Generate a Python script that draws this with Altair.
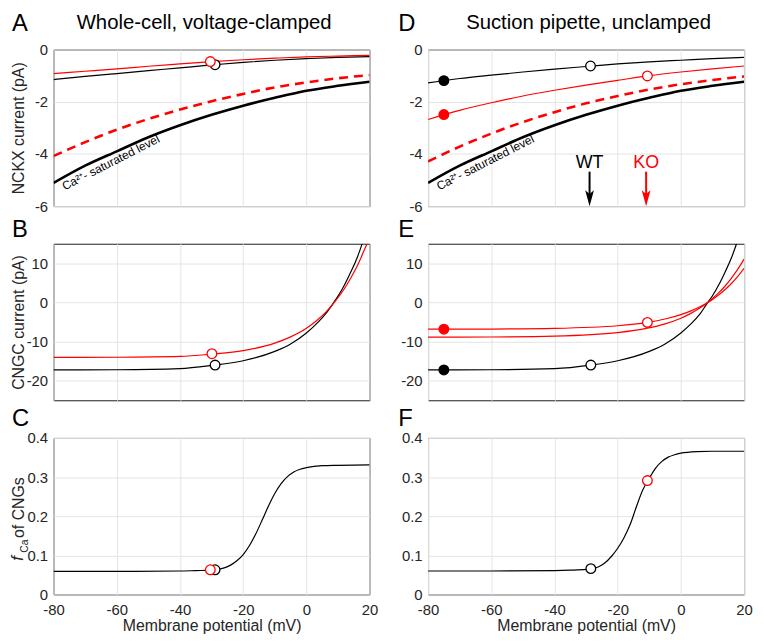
import altair as alt
import pandas as pd

FONT = "Liberation Sans"
RED = "#ff0000"
BLACK = "#000000"
INK = "#262626"
W, H = 319, 158

X_TICKS = [-80, -60, -40, -20, 0, 20]
NCKX_TICKS = [-6, -4, -2, 0]
CNGC_TICKS = [-20, -10, 0, 10]
FCA_TICKS = [0, 0.1, 0.2, 0.3, 0.4]

# ---------------- Panel A : NCKX current, whole-cell ----------------
A_V = [-80, -70, -60, -50, -40, -30, -20, -10, 0, 10, 20]
A_WT = [-1.15, -1.03, -0.92, -0.81, -0.70, -0.59, -0.49, -0.41, -0.35, -0.30, -0.27]
A_KO = [-0.92, -0.83, -0.74, -0.64, -0.55, -0.46, -0.39, -0.33, -0.28, -0.25, -0.22]
A_SAT_WT = [-5.11, -4.45, -3.90, -3.36, -2.90, -2.50, -2.15, -1.85, -1.58, -1.39, -1.23]
A_SAT_KO = [-4.08, -3.55, -3.07, -2.66, -2.30, -1.98, -1.70, -1.45, -1.26, -1.10, -0.98]
A_OPEN_WT = ([-28.9], [-0.58])
A_OPEN_KO = ([-30.4], [-0.46])

# ---------------- Panel D : NCKX current, suction pipette ----------------
D_V = [-80, -70, -60, -50, -40, -30, -20, -10, 0, 10, 20]
D_WT = [-1.28, -1.11, -0.98, -0.86, -0.75, -0.65, -0.55, -0.47, -0.41, -0.35, -0.30]
D_KO = [-2.68, -2.33, -2.04, -1.78, -1.56, -1.36, -1.18, -1.00, -0.86, -0.74, -0.63]
D_SAT_WT = [-5.11, -4.45, -3.90, -3.36, -2.90, -2.50, -2.15, -1.85, -1.58, -1.39, -1.23]
D_SAT_KO = [-4.29, -3.72, -3.22, -2.78, -2.40, -2.06, -1.78, -1.53, -1.33, -1.17, -1.03]
D_FILLED_WT = ([-75], [-1.19])
D_FILLED_KO = ([-75], [-2.49])
D_OPEN_WT = ([-28.6], [-0.63])
D_OPEN_KO = ([-10.6], [-1.01])
ARROW_V = [-28.9, -11.0]
ARROW_LABEL = ["WT", "KO"]
ARROW_COLOR = [BLACK, RED]
ARROW_LABEL_Y = -4.55
ARROW_TOP = -4.68
ARROW_SHAFT_END = -5.62
ARROW_HEAD_Y = -5.70

# ---------------- Panel B : CNGC current, whole-cell ----------------
B_WT_V = [-80, -60, -40, -30, -20, -10, -5, 0, 3, 6, 8.5, 10, 12, 14, 16, 17.6]
B_WT = [-17.25, -17.2, -16.9, -16.1, -14.9, -12.5, -10.6, -7.8, -5.6, -3.0, -0.2, 1.6, 4.4, 7.7, 11.3, 14.9]
B_KO_V = [-80, -60, -40, -30, -20, -10, -5, 0, 3, 6, 8.5, 10, 12, 14, 16, 18, 19.2]
B_KO = [-14.05, -14.0, -13.8, -13.2, -12.3, -10.4, -8.8, -6.6, -4.8, -2.6, -0.3, 1.2, 3.5, 6.2, 9.2, 12.8, 15.0]
B_OPEN_WT = ([-28.9], [-16.0])
B_OPEN_KO = ([-29.9], [-13.1])

# ---------------- Panel E : CNGC current, suction pipette ----------------
E_WT_V = [-80, -60, -40, -28.5, -20, -10, -5, 0, 3, 6, 8.5, 10, 12, 14, 16, 17.6]
E_WT = [-17.25, -17.2, -16.9, -16.0, -14.9, -12.5, -10.6, -7.8, -5.6, -3.0, 0.0, 1.7, 4.5, 7.8, 11.4, 15.0]
E_KO_V = [-80, -60, -40, -20, -10.6, -5, 0, 3, 6, 8.5, 10, 12, 14, 16, 18, 20]
E_KO_A = [-6.84, -6.80, -6.63, -5.96, -5.10, -4.24, -3.12, -2.22, -1.12, 0.0, 0.77, 1.95, 3.3, 4.85, 6.65, 8.7]
E_KO_B = [-8.88, -8.83, -8.61, -7.71, -6.58, -5.46, -4.02, -2.86, -1.43, 0.0, 0.99, 2.5, 4.2, 6.2, 8.5, 11.1]
E_FILLED_WT = ([-75], [-17.25])
E_FILLED_KO = ([-75], [-6.84])
E_OPEN_WT = ([-28.5], [-16.0])
E_OPEN_KO = ([-10.6], [-5.1])

# ---------------- Panels C / F : fCa of CNGs ----------------
F_V = [-80, -60, -40, -35, -30, -28, -26, -24, -22, -20, -18, -16, -14, -12, -10, -8, -6, -4, -2, 0, 5, 10, 20]
C_FCA = [0.059, 0.059, 0.060, 0.061, 0.062, 0.064, 0.068, 0.075, 0.086, 0.102, 0.125, 0.155, 0.190, 0.226,
         0.258, 0.283, 0.301, 0.313, 0.320, 0.324, 0.329, 0.330, 0.331]
F_FCA = [0.060, 0.060, 0.061, 0.062, 0.064, 0.066, 0.071, 0.081, 0.097, 0.118, 0.145, 0.180, 0.226, 0.268,
         0.297, 0.323, 0.340, 0.351, 0.357, 0.361, 0.365, 0.366, 0.366]
C_OPEN_WT = ([-28.9], [0.063])
C_OPEN_KO = ([-30.4], [0.063])
F_OPEN_WT = ([-28.5], [0.066])
F_OPEN_KO = ([-10.6], [0.291])

SAT_LABEL = "Ca²⁺- saturated level"
SAT_LABEL_POS = (-76.5, -5.40)


def xaxis(bottom):
    if bottom:
        return alt.Axis(values=X_TICKS, labelExpr="'' + datum.value", title="Membrane potential (mV)",
                        labelFlush=False, labelOverlap=False, labelPadding=8, titleY=23, grid=True)
    return alt.Axis(values=X_TICKS, labels=False, title=None, grid=True)


def yaxis(ticks, title):
    kw = dict(values=ticks, labelExpr="'' + datum.value", grid=True, labelPadding=6,
              labelOverlap=False, labelFlush=False)
    if title:
        kw.update(title=title, titleX=-27)
    else:
        kw["title"] = None
    return alt.Axis(**kw)


def pix_text(text, x, y, size, color=BLACK, align="left", baseline="alphabetic", angle=0, style="normal"):
    mk = dict(text=text, fontSize=size, color=color, align=align, baseline=baseline, font=FONT, fontStyle=style)
    if angle:
        mk["angle"] = angle
    return alt.Chart(pd.DataFrame({"k": [0]})).mark_text(**mk).encode(x=alt.value(x), y=alt.value(y))


def panel(ydom, yticks, ytitle, bottom, lines, points, texts=(), extra=()):
    X = alt.X("V:Q", scale=alt.Scale(domain=[-80, 20], nice=False, zero=False), axis=xaxis(bottom))
    Y = alt.Y("I:Q", scale=alt.Scale(domain=ydom, nice=False, zero=False), axis=yaxis(yticks, ytitle))
    layers = []
    for V, I, color, width, dash in lines:
        kw = dict(color=color, strokeWidth=width, interpolate="monotone", clip=True)
        if dash:
            kw["strokeDash"] = dash
        layers.append(alt.Chart(pd.DataFrame({"V": V, "I": I})).mark_line(**kw).encode(x=X, y=Y))
    for (V, I), stroke, fill in points:
        layers.append(alt.Chart(pd.DataFrame({"V": V, "I": I})).mark_point(
            shape="circle", size=95, filled=True, fill=fill, stroke=stroke, strokeWidth=1.3,
            fillOpacity=1, strokeOpacity=1).encode(x=X, y=Y))
    for t in texts:
        df = pd.DataFrame({"V": [t["V"]], "I": [t["I"]], "t": [t["text"]]})
        mk = dict(fontSize=t["size"], color=t["color"], align=t.get("align", "center"),
                  baseline=t.get("baseline", "alphabetic"), font=FONT)
        if t.get("angle"):
            mk["angle"] = t["angle"]
        layers.append(alt.Chart(df).mark_text(**mk).encode(x=X, y=Y, text="t:N"))
    layers.extend(extra)
    return alt.layer(*layers).properties(width=W, height=H)


sat_text = dict(V=SAT_LABEL_POS[0], I=SAT_LABEL_POS[1], text=SAT_LABEL, size=12, color=BLACK,
                align="left", baseline="alphabetic", angle=333)

# ---- A
pA = panel([-6, 0], NCKX_TICKS, "NCKX current (pA)", False,
           [(A_V, A_WT, BLACK, 1.2, None), (A_V, A_KO, RED, 1.2, None),
            (A_V, A_SAT_KO, RED, 2.6, [9, 6]), (A_V, A_SAT_WT, BLACK, 2.6, None)],
           [(A_OPEN_WT, BLACK, "white"), (A_OPEN_KO, RED, "white")],
           [sat_text],
           [pix_text("A", -42, -38, 24, baseline="top"),
            pix_text("Whole-cell, voltage-clamped", 152, -37, 20.5, align="center", baseline="top")])

# ---- D
arrow_df = pd.DataFrame({"V": ARROW_V, "lab": ARROW_LABEL, "col": ARROW_COLOR,
                         "y0": [ARROW_TOP] * 2, "y1": [ARROW_SHAFT_END] * 2,
                         "yl": [ARROW_LABEL_Y] * 2, "yh": [ARROW_HEAD_Y] * 2})
xs = alt.Scale(domain=[-80, 20], nice=False, zero=False)
ys = alt.Scale(domain=[-6, 0], nice=False, zero=False)
cs = alt.Scale(domain=ARROW_COLOR, range=ARROW_COLOR)
arrow_rule = alt.Chart(arrow_df).mark_rule(strokeWidth=2).encode(
    x=alt.X("V:Q", scale=xs), y=alt.Y("y0:Q", scale=ys), y2="y1:Q",
    color=alt.Color("col:N", scale=cs, legend=None))
arrow_head = alt.Chart(arrow_df).mark_point(
    shape="M0,1 L-0.55,-1 L0,-0.55 L0.55,-1 Z", size=256, filled=True, opacity=1, strokeWidth=0).encode(
    x=alt.X("V:Q", scale=xs), y=alt.Y("yh:Q", scale=ys),
    color=alt.Color("col:N", scale=cs, legend=None))
arrow_lab = alt.Chart(arrow_df).mark_text(fontSize=18, font=FONT, baseline="alphabetic", align="center").encode(
    x=alt.X("V:Q", scale=xs), y=alt.Y("yl:Q", scale=ys), text="lab:N",
    color=alt.Color("col:N", scale=cs, legend=None))

pD = panel([-6, 0], NCKX_TICKS, None, False,
           [(D_V, D_WT, BLACK, 1.2, None), (D_V, D_KO, RED, 1.2, None),
            (D_V, D_SAT_KO, RED, 2.6, [9, 6]), (D_V, D_SAT_WT, BLACK, 2.6, None)],
           [(D_FILLED_WT, BLACK, BLACK), (D_FILLED_KO, RED, RED),
            (D_OPEN_WT, BLACK, "white"), (D_OPEN_KO, RED, "white")],
           [sat_text],
           [arrow_rule, arrow_head, arrow_lab,
            pix_text("D", -30, -38, 24, baseline="top"),
            pix_text("Suction pipette, unclamped", 162, -37, 20.5, align="center", baseline="top")])

# ---- B
pB = panel([-25, 15], CNGC_TICKS, "CNGC current (pA)", False,
           [(B_WT_V, B_WT, BLACK, 1.2, None), (B_KO_V, B_KO, RED, 1.2, None)],
           [(B_OPEN_WT, BLACK, "white"), (B_OPEN_KO, RED, "white")],
           [], [pix_text("B", -42, -26, 24, baseline="top")])

# ---- E
pE = panel([-25, 15], CNGC_TICKS, None, False,
           [(E_WT_V, E_WT, BLACK, 1.2, None), (E_KO_V, E_KO_A, RED, 1.2, None), (E_KO_V, E_KO_B, RED, 1.2, None)],
           [(E_FILLED_WT, BLACK, BLACK), (E_FILLED_KO, RED, RED),
            (E_OPEN_WT, BLACK, "white"), (E_OPEN_KO, RED, "white")],
           [], [pix_text("E", -30, -26, 24, baseline="top")])

# ---- C
pC = panel([0, 0.4], FCA_TICKS, None, True,
           [(F_V, C_FCA, BLACK, 1.2, None)],
           [(C_OPEN_WT, BLACK, "white"), (C_OPEN_KO, RED, "white")],
           [], [pix_text("C", -42, -31, 24, baseline="top"),
                pix_text("of CNGs", -27, 101, 16, color=INK, baseline="bottom", angle=270),
                pix_text("Ca", -24, 116, 10.5, color=INK, baseline="bottom", angle=270),
                pix_text("f", -27, 124, 17, color=INK, baseline="bottom", angle=270, style="italic")])

# ---- F
pF = panel([0, 0.4], FCA_TICKS, None, True,
           [(F_V, F_FCA, BLACK, 1.2, None)],
           [(F_OPEN_WT, BLACK, "white"), (F_OPEN_KO, RED, "white")],
           [], [pix_text("F", -30, -31, 24, baseline="top")])

chart = alt.concat(pA, pD, pB, pE, pC, pF, columns=2, spacing={"row": 38, "column": 59}, bounds="flush")
chart = chart.configure(
    font=FONT, padding={"left": 0, "top": 0, "right": 2, "bottom": 2}
).configure_view(
    stroke="#1a1a1a", strokeWidth=1
).configure_axis(
    labelFont=FONT, labelFontSize=15, labelColor=INK,
    titleFont=FONT, titleFontSize=16, titleColor=INK, titleFontWeight="normal",
    gridColor="#e4e4e4", gridWidth=1, domain=False, ticks=False
)

chart.save("out.html", embed_options={"renderer": "svg", "actions": False})
